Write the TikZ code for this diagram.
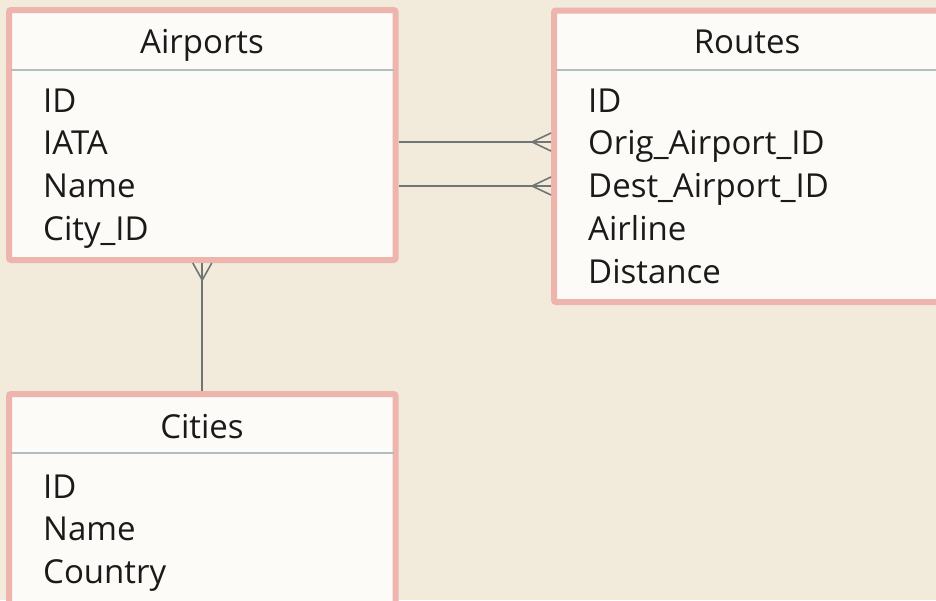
\documentclass[tikz,border=0pt]{standalone}
\usepackage{fontspec}
\setmainfont{Open Sans}
\usetikzlibrary{calc,positioning}

\definecolor{paper}{HTML}{F2EBDC}
\definecolor{boxfill}{HTML}{FCFBF8}
\definecolor{boxline}{HTML}{EDB5AD}
\definecolor{sepline}{HTML}{B0BEC2}
\definecolor{linkgray}{HTML}{717675}
\definecolor{ink}{HTML}{1A1A1A}

\tikzset{
  entity/.style={draw=boxline,fill=boxfill,line width=6pt,rounded corners=2pt,
    rectangle,inner sep=0pt},
  sepbar/.style={draw=sepline,line width=2.5pt,shorten <=5pt,shorten >=5pt},
  title/.style={anchor=base,text=ink,font=\fontsize{33}{38}\selectfont},
  field/.style={anchor=base west,text=ink,inner sep=0pt,font=\fontsize{33}{38}\selectfont},
  link/.style={draw=linkgray,line width=1.6pt}
}

\begin{document}
\begin{tikzpicture}[x=1pt,y=-1pt]
\useasboundingbox[fill=paper] (0,0) rectangle (936,600);

% tables
\node[entity,minimum width=386.5pt,minimum height=250pt] (airports) at (202.25,135) {};
\node[entity,minimum width=386pt,minimum height=291.5pt] (routes) at (747,156.25) {};
\node[entity,minimum width=386.5pt,minimum height=221pt] (cities) at (202.25,504.5) {};

\draw[sepbar] (airports.west |- 0,70) -- (airports.east |- 0,70);
\draw[sepbar] (routes.west |- 0,70) -- (routes.east |- 0,70);
\draw[sepbar] (cities.west |- 0,453) -- (cities.east |- 0,453);

\node[title] (airports-t) at (202,53) {Airports};
\node[title] (routes-t) at (747,53) {Routes};
\node[title] (cities-t) at (202,438) {Cities};

\foreach \f [count=\i] in {ID,IATA,Name,City\_ID}
  \node[field] (a-\i) at (43,{69.5+42.7*\i}) {\f};
\foreach \f [count=\i] in {ID,Orig\_Airport\_ID,Dest\_Airport\_ID,Airline,Distance}
  \node[field] (r-\i) at (588,{69.5+42.7*\i}) {\f};
\foreach \f [count=\i] in {ID,Name,Country}
  \node[field] (c-\i) at (43,{455.5+42.5*\i}) {\f};

% relations
\coordinate (orig) at (0,142);
\coordinate (dest) at (0,186);
\draw[link] (airports.east |- orig) -- (routes.west |- orig);
\draw[link] (airports.east |- dest) -- (routes.west |- dest);
\draw[link] ($(routes.west |- orig)+(-19,0)$) coordinate (o-foot) -- ++(19,-9);
\draw[link] (o-foot) -- ++(19,9);
\draw[link] ($(routes.west |- dest)+(-19,0)$) coordinate (d-foot) -- ++(19,-9);
\draw[link] (d-foot) -- ++(19,9);

\draw[link] (cities.north -| airports.south) -- (airports.south);
\draw[link] ($(airports.south)+(0,17)$) coordinate (c-foot) -- ++(-9.5,-17);
\draw[link] (c-foot) -- ++(9.5,-17);
\end{tikzpicture}
\end{document}
